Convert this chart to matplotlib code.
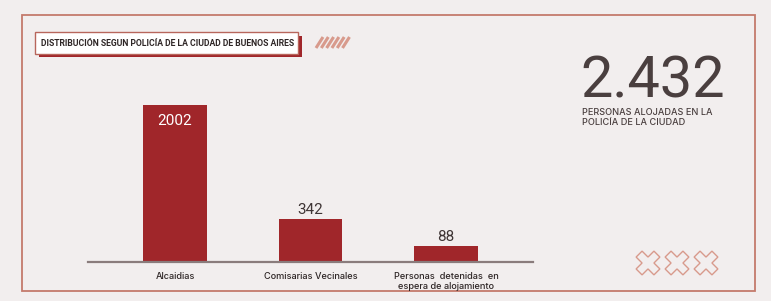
import numpy as np
import matplotlib
matplotlib.use("Agg")
import matplotlib.pyplot as plt
from matplotlib.patches import Rectangle, Polygon

# ---- data ----
categories = ["Alcaidias", "Comisarias Vecinales", "Personas  detenidas  en\nespera de alojamiento"]
values = [2002, 342, 88]
total_label = "2.432"
total_caption = "PERSONAS ALOJADAS EN LA\nPOLICÍA DE LA CIUDAD"
title = "DISTRIBUCIÓN SEGUN POLICÍA DE LA CIUDAD DE BUENOS AIRES"

W, H = 771, 301
BG = "#f2eeee"
BAR = "#a0262a"
FRAME = "#c47a6c"
DARK = "#3f3535"
LIGHT = "#d89a8c"

fig = plt.figure(figsize=(W / 100, H / 100), dpi=100, facecolor=BG)

def fx(px):
    return px / W

def fy(py):
    return 1 - py / H

# decoration axes in pixel coordinates
deco = fig.add_axes([0, 0, 1, 1], zorder=0)
deco.set_xlim(0, W)
deco.set_ylim(H, 0)
deco.axis("off")
deco.set_facecolor(BG)

# outer frame
deco.add_patch(Rectangle((22, 15), 733, 276, fill=False, ec=FRAME, lw=1.3))

# title box with shadow
deco.add_patch(Rectangle((38.5, 35.5), 263, 21.5, fc=BAR, ec="none"))
deco.add_patch(Rectangle((35, 32), 263, 21.5, fc="white", ec="#b8665c", lw=1.0))
deco.text(167.5, 43.5, title, ha="center", va="center", fontsize=6.25,
          fontweight="bold", color="#2e2626", family="Roboto")

# hatch icon
for i in range(6):
    x0 = 316 + i * 5.3
    deco.plot([x0, x0 + 7], [48, 37], color=LIGHT, lw=2.2, solid_capstyle="butt")

# crosses icon
def cross(cx, cy, L=12.6, w=4.2):
    pts = [(w, w), (w, L), (-w, L), (-w, w), (-L, w), (-L, -w), (-w, -w),
           (-w, -L), (w, -L), (w, -w), (L, -w), (L, w)]
    c, s = np.cos(np.pi / 4), np.sin(np.pi / 4)
    return [(cx + c * x - s * y, cy + s * x + c * y) for x, y in pts]

for k in range(3):
    deco.add_patch(Polygon(cross(648 + k * 29, 263), closed=True, fill=False,
                           ec=LIGHT, lw=1.0))

# big number + caption
deco.text(580, 97, total_label, ha="left", va="baseline", fontsize=41.5,
          fontweight="normal", color="#4a3f3f", family="Roboto")
deco.text(582, 108, total_caption, ha="left", va="top", fontsize=6.6,
          color="#4a3f3f", family="Inter", fontweight="medium", linespacing=1.2)

# bar chart axes
unit = 135.5
c0 = 175
xl = (88 - c0) / unit
xr = (533 - c0) / unit
base = 262
top = 105
ax = fig.add_axes([fx(88), fy(base), fx(533) - fx(88), (base - top) / H], zorder=1)
ax.patch.set_alpha(0)
p = 0.73
ax.set_yscale("function", functions=(lambda v: np.sign(v) * np.abs(v) ** p,
                                     lambda v: np.sign(v) * np.abs(v) ** (1 / p)))
x = np.arange(len(values))
ax.bar(x, values, width=64 / unit, color=BAR)
ax.set_xlim(xl, xr)
ax.set_ylim(0, max(values))
for s in ["top", "right", "left"]:
    ax.spines[s].set_visible(False)
ax.spines["bottom"].set_color("#8a7c7c")
ax.spines["bottom"].set_linewidth(1.6)
ax.set_yticks([])
ax.set_xticks(x)
ax.set_xticklabels(categories, fontsize=6.6, color="#2e2626", family="Inter",
                   fontweight="medium", linespacing=1.15)
ax.tick_params(axis="x", length=0, pad=7)

for i, v in enumerate(values):
    if i == 0:
        ax.annotate(str(v), (i, v), xytext=(0, -16), textcoords="offset pixels",
                    ha="center", va="center", fontsize=11, color="white",
                    family="Roboto")
    else:
        ax.annotate(str(v), (i, v), xytext=(0, 9), textcoords="offset pixels",
                    ha="center", va="center", fontsize=11, color=DARK,
                    family="Roboto")

fig.savefig("out.png", dpi=100, facecolor=BG)
